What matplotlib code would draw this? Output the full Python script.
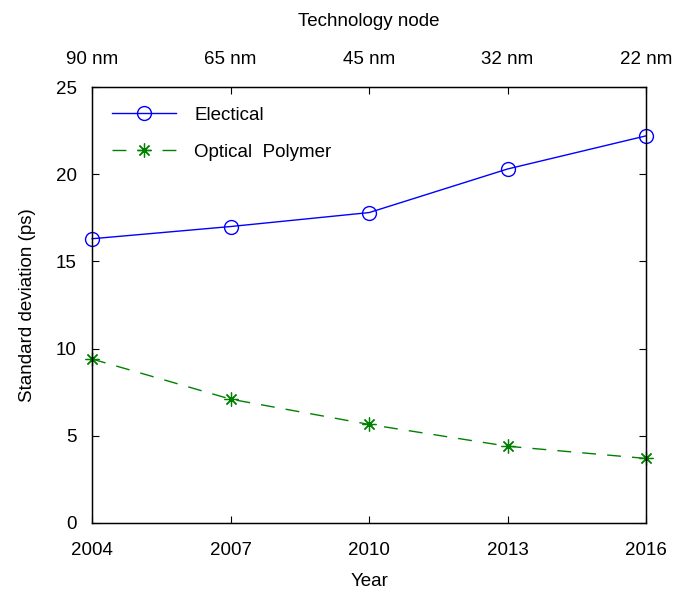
import matplotlib
matplotlib.use("Agg")
import matplotlib.pyplot as plt

plt.rcParams['font.family'] = ['Liberation Sans', 'DejaVu Sans']
plt.rcParams['font.size'] = 13.5

years = [2004, 2007, 2010, 2013, 2016]
nodes = ['90 nm', '65 nm', '45 nm', '32 nm', '22 nm']
electrical = [16.3, 17.0, 17.8, 20.3, 22.2]
optical = [9.4, 7.1, 5.65, 4.4, 3.7]

fig = plt.figure(figsize=(6.73, 5.92), dpi=100)
ax = fig.add_axes([0.137, 0.1166, 0.823, 0.7364])

ax.plot(years, electrical, color='#0000ff', lw=1, marker='o', ms=10,
        mfc='none', mec='#0000ff', mew=1, label='Electical', clip_on=False)
ax.plot(years, optical, color='#008000', lw=1, dashes=(10, 8), marker=(8, 2, 0),
        ms=10, mec='#008000', mew=0.9, label='Optical  Polymer', clip_on=False)

ax.set_xlim(2004, 2016)
ax.set_ylim(0, 25)
ax.set_xticks(years)
ax.set_yticks([0, 5, 10, 15, 20, 25])
ax.tick_params(axis='x', direction='in', length=5, width=0.8, pad=14)
ax.tick_params(axis='y', direction='in', length=5, width=0.8, right=True, pad=11)
ax.set_xlabel('Year', labelpad=10)
ax.set_ylabel('Standard deviation (ps)', labelpad=14)
for s in ax.spines.values():
    s.set_linewidth(1)

top = ax.twiny()
top.set_xlim(ax.get_xlim())
top.set_xticks(years)
top.set_xticklabels(nodes)
top.tick_params(direction='in', length=5, width=0.8, pad=14)
top.set_xlabel('Technology node', labelpad=18)

leg = ax.legend(loc='upper left', frameon=False, handlelength=3.4,
                borderaxespad=0.6, borderpad=0.45, labelspacing=1.05,
                handletextpad=1.0)

fig.savefig('out.png', dpi=100)
